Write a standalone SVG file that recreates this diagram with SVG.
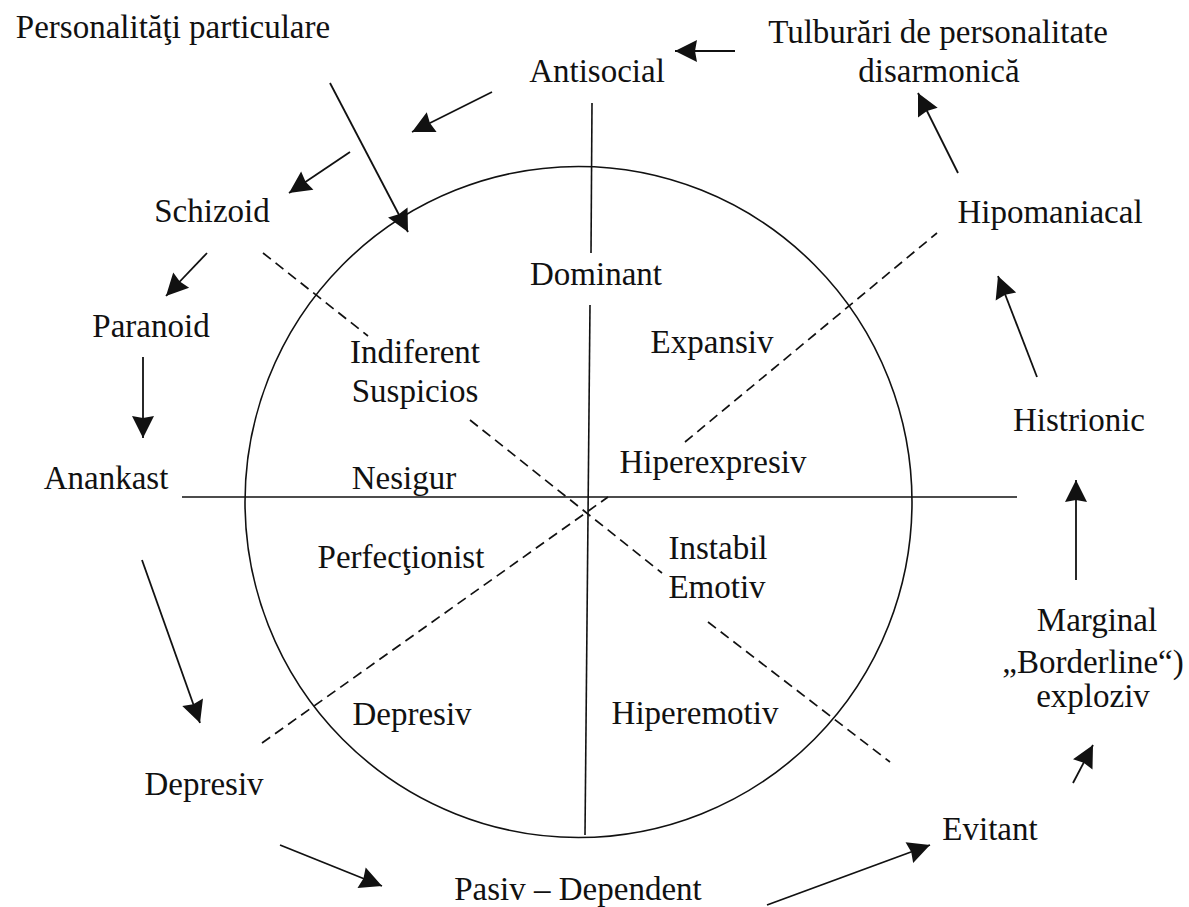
<svg xmlns="http://www.w3.org/2000/svg" width="1189" height="907" viewBox="0 0 1189 907">
<style>
text{font-family:"Liberation Serif","DejaVu Serif",serif;font-size:33px;fill:#111;text-anchor:middle}
.s{stroke:#111;stroke-width:1.6;fill:none}
.d{stroke:#111;stroke-width:1.7;fill:none;stroke-dasharray:10 6}
.a{stroke:#111;stroke-width:1.8;fill:none;marker-end:url(#ah)}
</style>
<defs>
<marker id="ah" markerUnits="userSpaceOnUse" viewBox="-26 -13 28 26" refX="0" refY="0" markerWidth="28" markerHeight="26" orient="auto">
<path d="M0,0 L-22,-11 L-20,0 L-22,11 Z" fill="#111"/>
</marker>
</defs>
<rect width="1189" height="907" fill="#fff"/>
<g id="wheel">
<ellipse class="s" cx="578.5" cy="502" rx="333.5" ry="335.5"/>
<line class="s" x1="182" y1="497" x2="1017" y2="497"/>
<line class="s" x1="592" y1="103" x2="591" y2="253"/>
<line class="s" x1="590" y1="305" x2="585" y2="835"/>
<line class="d" x1="263" y1="253" x2="368" y2="336"/>
<line class="d" x1="470" y1="420" x2="662" y2="573"/>
<line class="d" x1="708" y1="622" x2="890" y2="762"/>
<line class="d" x1="262" y1="743" x2="608" y2="497"/>
<line class="d" x1="685" y1="442" x2="937" y2="233"/>
</g>
<g id="sectors">
<text x="596" y="285">Dominant</text>
<text x="415" y="363">Indiferent</text>
<text x="415" y="402">Suspicios</text>
<text x="712" y="353">Expansiv</text>
<text x="404" y="489">Nesigur</text>
<text x="713" y="473">Hiperexpresiv</text>
<text x="401" y="568">Perfecţionist</text>
<text x="718" y="559">Instabil</text>
<text x="717" y="598">Emotiv</text>
<text x="412" y="725">Depresiv</text>
<text x="695" y="724">Hiperemotiv</text>
</g>
<g id="n-personalitati"><text x="173" y="38">Personalităţi particulare</text></g>
<g id="n-tulburari"><text x="938" y="43">Tulburări de personalitate</text><text x="939" y="82">disarmonică</text></g>
<g id="n-antisocial"><text x="597" y="82">Antisocial</text></g>
<g id="n-schizoid"><text x="212" y="222">Schizoid</text></g>
<g id="n-paranoid"><text x="151" y="337">Paranoid</text></g>
<g id="n-anankast"><text x="106" y="489">Anankast</text></g>
<g id="n-depresiv"><text x="204" y="795">Depresiv</text></g>
<g id="n-pasiv"><text x="578" y="900">Pasiv – Dependent</text></g>
<g id="n-evitant"><text x="990" y="840">Evitant</text></g>
<g id="n-marginal"><text x="1097" y="631">Marginal</text><text x="1093" y="673">„Borderline“)</text><text x="1093" y="707">exploziv</text></g>
<g id="n-histrionic"><text x="1079" y="431">Histrionic</text></g>
<g id="n-hipomaniacal"><text x="1050" y="223">Hipomaniacal</text></g>
<g id="connectors">
<line class="a" x1="735" y1="51" x2="675" y2="51"/>
<line class="a" x1="492" y1="92" x2="412" y2="132"/>
<line class="a" x1="350" y1="152" x2="289" y2="193"/>
<line class="a" x1="330" y1="83" x2="408" y2="232"/>
<line class="a" x1="207" y1="253" x2="166" y2="296"/>
<line class="a" x1="143" y1="357" x2="143" y2="438"/>
<line class="a" x1="142" y1="560" x2="200" y2="723"/>
<line class="a" x1="280" y1="845" x2="382" y2="886"/>
<line class="a" x1="767" y1="905" x2="930" y2="845"/>
<line class="a" x1="1073" y1="783" x2="1093" y2="745"/>
<line class="a" x1="1076" y1="580" x2="1076" y2="480"/>
<line class="a" x1="1037" y1="377" x2="998" y2="276"/>
<line class="a" x1="958" y1="173" x2="918" y2="93"/>
</g>
</svg>
